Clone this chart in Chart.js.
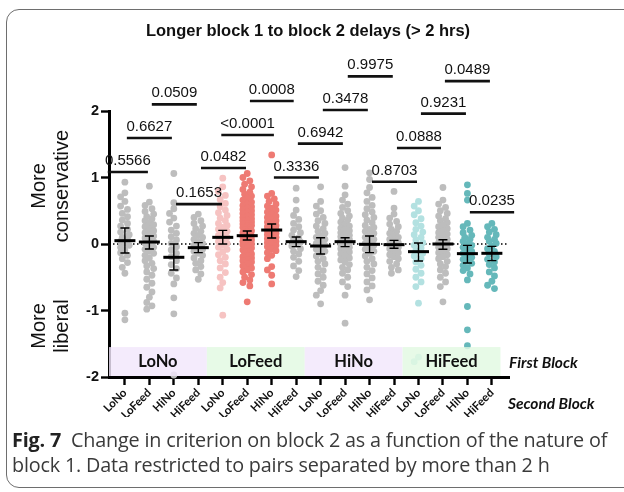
<!DOCTYPE html>
<html><head><meta charset="utf-8">
<script src="https://cdn.jsdelivr.net/npm/chart.js@4/dist/chart.umd.min.js"></script>
<style>
html,body{margin:0;padding:0;background:#fff;}
#wrap{position:relative;width:624px;height:492px;overflow:hidden;}
#frame{position:absolute;left:6px;top:9px;width:680px;height:479px;border:1.5px solid #6e6e6e;border-radius:13px;box-sizing:border-box;}
#c{position:absolute;left:0;top:0;}
#caption{position:absolute;left:12px;top:427px;font-family:'Open Sans';font-size:19.8px;line-height:25px;color:#3a3a3a;letter-spacing:-0.18px;white-space:nowrap;}
#caption b{color:#222;font-weight:700;}
</style></head>
<body><div id="wrap"><div id="frame"></div><canvas id="c" width="624" height="492"></canvas>
<div id="caption"><b>Fig. 7</b>&nbsp; Change in criterion on block 2 as a function of the nature of<br>block 1. Data restricted to pairs separated by more than 2 h</div></div>
<script>
const categories = ['LoNo','LoFeed','HiNo','HiFeed','LoNo','LoFeed','HiNo','HiFeed','LoNo','LoFeed','HiNo','HiFeed','LoNo','LoFeed','HiNo','HiFeed'];
const firstBlock = ['LoNo','LoFeed','HiNo','HiFeed'];

const c0 = [0.93,0.77,0.71,0.64,0.57,0.52,0.46,0.41,0.36,0.31,0.27,0.22,0.18,0.14,0.1,0.07,0.04,0.01,-0.02,-0.05,-0.09,-0.13,-0.17,-0.22,-0.28,-0.35,-0.44,-1.04,-1.14];
const c1 = [0.87,0.63,0.58,0.53,0.49,0.45,0.41,0.38,0.35,0.32,0.29,0.26,0.23,0.2,0.17,0.14,0.12,0.09,0.06,0.04,0.01,-0.02,-0.05,-0.08,-0.11,-0.14,-0.17,-0.21,-0.25,-0.29,-0.33,-0.37,-0.42,-0.47,-0.53,-0.59,-0.65,-0.72,-0.8,-0.88,-0.93,-0.98];
const c2 = [1.06,0.62,0.53,0.46,0.39,0.33,0.27,0.21,0.16,0.11,0.06,0.01,-0.04,-0.09,-0.14,-0.19,-0.25,-0.31,-0.37,-0.44,-0.51,-0.6,-0.81,-1.05,-1.97];
const c3 = [0.45,0.4,0.35,0.31,0.27,0.23,0.19,0.16,0.13,0.1,0.07,0.04,0.01,-0.02,-0.05,-0.08,-0.11,-0.14,-0.17,-0.21,-0.25,-0.29,-0.34,-0.39,-0.45,-0.53];
const c4 = [0.99,0.86,0.79,0.73,0.67,0.61,0.56,0.51,0.47,0.43,0.39,0.35,0.31,0.28,0.25,0.22,0.19,0.16,0.13,0.1,0.07,0.04,0.01,-0.02,-0.05,-0.08,-0.12,-0.16,-0.2,-0.25,-0.3,-0.36,-0.43,-0.5,-0.58,-0.66,-1.07];
const c5 = [1.06,1.0,0.95,0.9,0.86,0.82,0.78,0.75,0.72,0.69,0.66,0.63,0.6,0.58,0.56,0.54,0.52,0.5,0.48,0.46,0.44,0.42,0.4,0.38,0.36,0.35,0.33,0.31,0.3,0.28,0.27,0.25,0.24,0.22,0.21,0.2,0.18,0.17,0.16,0.15,0.13,0.12,0.11,0.1,0.09,0.08,0.06,0.05,0.04,0.03,0.02,0.01,0,-0.01,-0.02,-0.03,-0.05,-0.06,-0.07,-0.09,-0.1,-0.12,-0.13,-0.15,-0.17,-0.19,-0.21,-0.23,-0.25,-0.27,-0.3,-0.33,-0.36,-0.39,-0.42,-0.46,-0.5,-0.54,-0.58,-0.63,-0.87];
const c6 = [1.34,0.76,0.72,0.68,0.64,0.6,0.57,0.54,0.51,0.48,0.45,0.42,0.4,0.37,0.35,0.33,0.3,0.28,0.26,0.24,0.22,0.2,0.18,0.16,0.14,0.12,0.1,0.08,0.06,0.04,0.02,0,-0.02,-0.04,-0.07,-0.1,-0.13,-0.17,-0.22,-0.34,-0.39,-0.47,-0.6];
const c7 = [0.84,0.66,0.51,0.43,0.37,0.31,0.26,0.21,0.17,0.13,0.09,0.06,0.03,0,-0.03,-0.07,-0.11,-0.15,-0.2,-0.26,-0.33,-0.4,-0.49];
const c8 = [0.86,0.64,0.57,0.5,0.45,0.4,0.35,0.31,0.27,0.23,0.19,0.16,0.13,0.1,0.07,0.04,0.01,-0.02,-0.05,-0.08,-0.11,-0.14,-0.18,-0.22,-0.26,-0.3,-0.35,-0.4,-0.45,-0.5,-0.56,-0.62,-0.7,-0.77,-0.9];
const c9 = [1.15,0.87,0.74,0.66,0.6,0.55,0.5,0.46,0.42,0.39,0.36,0.33,0.3,0.27,0.24,0.22,0.2,0.17,0.15,0.13,0.11,0.09,0.07,0.05,0.03,0.01,-0.01,-0.03,-0.05,-0.07,-0.1,-0.12,-0.15,-0.18,-0.21,-0.24,-0.27,-0.31,-0.35,-0.39,-0.44,-0.5,-0.57,-0.64,-0.77,-1.19];
const c10 = [1.07,0.97,0.85,0.77,0.7,0.64,0.58,0.53,0.48,0.44,0.4,0.36,0.32,0.28,0.25,0.22,0.19,0.16,0.13,0.1,0.07,0.04,0.01,-0.02,-0.05,-0.08,-0.11,-0.14,-0.18,-0.22,-0.26,-0.3,-0.35,-0.4,-0.45,-0.51,-0.57,-0.63,-0.69,-0.84];
const c11 = [0.79,0.54,0.45,0.39,0.34,0.3,0.26,0.22,0.19,0.16,0.13,0.1,0.07,0.05,0.02,0,-0.02,-0.05,-0.07,-0.1,-0.13,-0.16,-0.19,-0.22,-0.26,-0.3,-0.35,-0.39,-0.44];
const c12 = [0.64,0.57,0.5,0.44,0.38,0.32,0.27,0.22,0.18,0.14,0.1,0.06,0.02,-0.02,-0.06,-0.1,-0.14,-0.18,-0.22,-0.27,-0.32,-0.38,-0.44,-0.5,-0.57,-0.64,-0.89,-1.7,-1.77];
const c13 = [0.85,0.66,0.6,0.55,0.5,0.46,0.42,0.38,0.35,0.32,0.29,0.26,0.23,0.2,0.17,0.15,0.12,0.1,0.07,0.05,0.02,0,-0.02,-0.05,-0.07,-0.1,-0.13,-0.16,-0.19,-0.22,-0.26,-0.3,-0.34,-0.39,-0.44,-0.5,-0.57,-0.64,-0.87];
const c14 = [0.89,0.76,0.66,0.31,0.26,0.21,0.17,0.13,0.1,0.07,0.04,0.01,-0.02,-0.05,-0.08,-0.11,-0.14,-0.17,-0.2,-0.23,-0.26,-0.29,-0.32,-0.36,-0.4,-0.45,-0.54,-0.94,-1.29,-1.53];
const c15 = [0.31,0.26,0.22,0.18,0.14,0.1,0.07,0.04,0.01,-0.03,-0.07,-0.11,-0.15,-0.19,-0.23,-0.27,-0.31,-0.36,-0.42,-0.48,-0.56,-0.62,-0.67];

const means  = [0.05,0.03,-0.2,-0.055,0.1,0.125,0.21,0.035,-0.03,0.035,-0.005,-0.01,-0.115,0.0,-0.145,-0.14];
const ciHigh = [0.24,0.12,0.0,0.02,0.205,0.195,0.30,0.105,0.095,0.095,0.12,0.055,0.015,0.065,-0.02,-0.035];
const ciLow  = [-0.135,-0.075,-0.39,-0.13,0.0,0.06,0.09,-0.04,-0.15,-0.04,-0.13,-0.065,-0.255,-0.08,-0.285,-0.25];

const pLabels = ['0.5566','0.6627','0.0509','0.1653','0.0482','<0.0001','0.0008','0.3336','0.6942','0.3478','0.9975','0.8703','0.0888','0.9231','0.0489','0.0235'];
const pFrom   = [-0.70,0.08,1.10,2.09,3.11,3.94,5.11,6.09,7.07,8.09,9.11,10.10,11.12,12.10,13.08,14.10];
const pTo     = [0.94,1.92,2.94,3.97,4.95,6.09,6.90,7.93,8.91,9.93,10.95,11.94,12.92,13.94,14.92,15.91];
const pLevel  = [1.083,1.594,2.10,0.60,1.143,1.64,2.15,1.0,1.51,2.015,2.52,0.937,1.444,1.96,2.45,0.477];

const groups = [c0,c1,c2,c3,c4,c5,c6,c7,c8,c9,c10,c11,c12,c13,c14,c15];
const GRAY='#bdbdbd', PINK='#f6c3c2', SALMON='#ee7a73', LTEAL='#b3e1e1', TEAL='#65b8ba';
const colors = [GRAY,GRAY,GRAY,GRAY,PINK,SALMON,SALMON,GRAY,GRAY,GRAY,GRAY,GRAY,LTEAL,GRAY,TEAL,TEAL];
const bandColors = ['rgba(241,230,251,0.82)','rgba(226,249,226,0.82)','rgba(241,230,251,0.82)','rgba(226,249,226,0.82)'];

// beeswarm layout (pixel-ish spacing only; values unchanged)
function swarm(values, idx){
  const PXX=24.46, PXY=66.5, D=6.4;
  const cands=[0,-2.6,2.6,-4.3,4.3];
  const placed=[];
  return values.slice().sort((a,b)=>b-a).map(v=>{
    const py=v*PXY; let best=0,bestD=-1;
    for(const c of cands){
      let md=Infinity;
      for(const p of placed){const dy=p.py-py; if(Math.abs(dy)<D){md=Math.min(md,Math.hypot(p.px-c,dy));}}
      if(md>=D*0.92){best=c;bestD=md;break;}
      if(md>bestD){bestD=md;best=c;}
    }
    placed.push({px:best,py});
    return {x: idx+best/PXX, y: v};
  });
}

const datasets = groups.map((g,i)=>({
  data: swarm(g,i), backgroundColor: colors[i], borderWidth:0, pointRadius:3.4, pointHoverRadius:3.4, clip:false
}));

const overlay = {
  id:'overlay',
  beforeDatasetsDraw(chart){
    const {ctx, scales:{x,y}, chartArea:a} = chart;
    ctx.save();
    ctx.strokeStyle='#000'; ctx.lineWidth=1.3; ctx.setLineDash([1.5,2.5]);
    const y0=y.getPixelForValue(0);
    ctx.beginPath(); ctx.moveTo(a.left,y0); ctx.lineTo(a.right,y0); ctx.stroke();
    ctx.restore();
  },
  afterDatasetsDraw(chart){
    const {ctx, scales:{x,y}} = chart;
    ctx.save();
    for(let i=0;i<means.length;i++){
      const cx=x.getPixelForValue(i);
      const yt=y.getPixelForValue(ciHigh[i]), yb=y.getPixelForValue(ciLow[i]), ym=y.getPixelForValue(means[i]);
      ctx.strokeStyle='#000'; ctx.lineWidth=1.4;
      ctx.beginPath();
      ctx.moveTo(cx,yt); ctx.lineTo(cx,yb);
      ctx.moveTo(cx-4.5,yt); ctx.lineTo(cx+4.5,yt);
      ctx.moveTo(cx-4.5,yb); ctx.lineTo(cx+4.5,yb);
      ctx.stroke();
      ctx.lineWidth=3;
      ctx.beginPath(); ctx.moveTo(cx-10.5,ym); ctx.lineTo(cx+10.5,ym); ctx.stroke();
    }
    const yTop=y.getPixelForValue(-1.55), yBot=y.getPixelForValue(-2);
    for(let g=0;g<firstBlock.length;g++){
      const x1=x.getPixelForValue(g*4-0.65), x2=x.getPixelForValue(g*4+3.35);
      ctx.fillStyle=bandColors[g];
      ctx.fillRect(x1,yTop,x2-x1,yBot-yTop-1);
      ctx.fillStyle='#111'; ctx.font='bold 16.5px Lato'; ctx.textAlign='center'; ctx.textBaseline='middle';
      ctx.fillText(firstBlock[g],(x1+x2)/2,(yTop+yBot)/2);
    }
    ctx.restore();
  },
  afterDraw(chart){
    const {ctx, scales:{x,y}} = chart;
    ctx.save();
    ctx.strokeStyle='#111'; ctx.lineWidth=2.6; ctx.fillStyle='#111';
    ctx.font='15px "Liberation Sans", Arial'; ctx.textAlign='center'; ctx.textBaseline='alphabetic';
    for(let i=0;i<pLabels.length;i++){
      const x1=x.getPixelForValue(pFrom[i]), x2=x.getPixelForValue(pTo[i]), py=y.getPixelForValue(pLevel[i]);
      ctx.beginPath(); ctx.moveTo(x1,py); ctx.lineTo(x2,py); ctx.stroke();
      ctx.fillText(pLabels[i],(x1+x2)/2,py-7);
    }
    ctx.font='bold 16.5px "Liberation Sans", Arial'; ctx.textBaseline='middle';
    ctx.fillText('Longer block 1 to block 2 delays (> 2 hrs)',308,31);
    ctx.font='20px "Liberation Sans", Arial';
    ctx.save(); ctx.translate(50,186); ctx.rotate(-Math.PI/2);
    ctx.fillText('More',0,-11); ctx.fillText('conservative',0,12); ctx.restore();
    ctx.save(); ctx.translate(50,326); ctx.rotate(-Math.PI/2);
    ctx.fillText('More',0,-11); ctx.fillText('liberal',0,12); ctx.restore();
    ctx.font='italic bold 15.5px Lato'; ctx.textAlign='left';
    ctx.fillText('First Block',509,363);
    ctx.fillText('Second Block',508,404);
    ctx.restore();
  }
};

new Chart(document.getElementById('c'), {
  type:'scatter',
  data:{datasets},
  options:{
    responsive:false, animation:false,
    layout:{padding:{left:0,right:115,top:111,bottom:75}},
    plugins:{legend:{display:false}, tooltip:{enabled:false}, title:{display:false}},
    scales:{
      x:{type:'linear', min:-0.65, max:15.7,
        afterBuildTicks:s=>{s.ticks=categories.map((_,i)=>({value:i}));},
        afterFit:s=>{s.height=40;},
        ticks:{autoSkip:false, minRotation:45, maxRotation:45, padding:1, color:'#111',
          font:{family:'Lato', weight:'bold', size:11.5}, callback:v=>categories[v]},
        grid:{display:true, drawOnChartArea:false, tickLength:8, tickWidth:2.4, tickColor:'#000'},
        border:{display:true, color:'#000', width:3}},
      y:{min:-2, max:2,
        afterBuildTicks:s=>{s.ticks=[-2,-1,0,1,2].map(v=>({value:v}));},
        afterFit:s=>{s.width=109;},
        ticks:{color:'#111', padding:2, font:{family:'"Liberation Sans", Arial', weight:'bold', size:14.5}},
        grid:{display:true, drawOnChartArea:false, tickLength:8, tickWidth:2.4, tickColor:'#000'},
        border:{display:true, color:'#000', width:3}}
    }
  },
  plugins:[overlay]
});
</script></body></html>
